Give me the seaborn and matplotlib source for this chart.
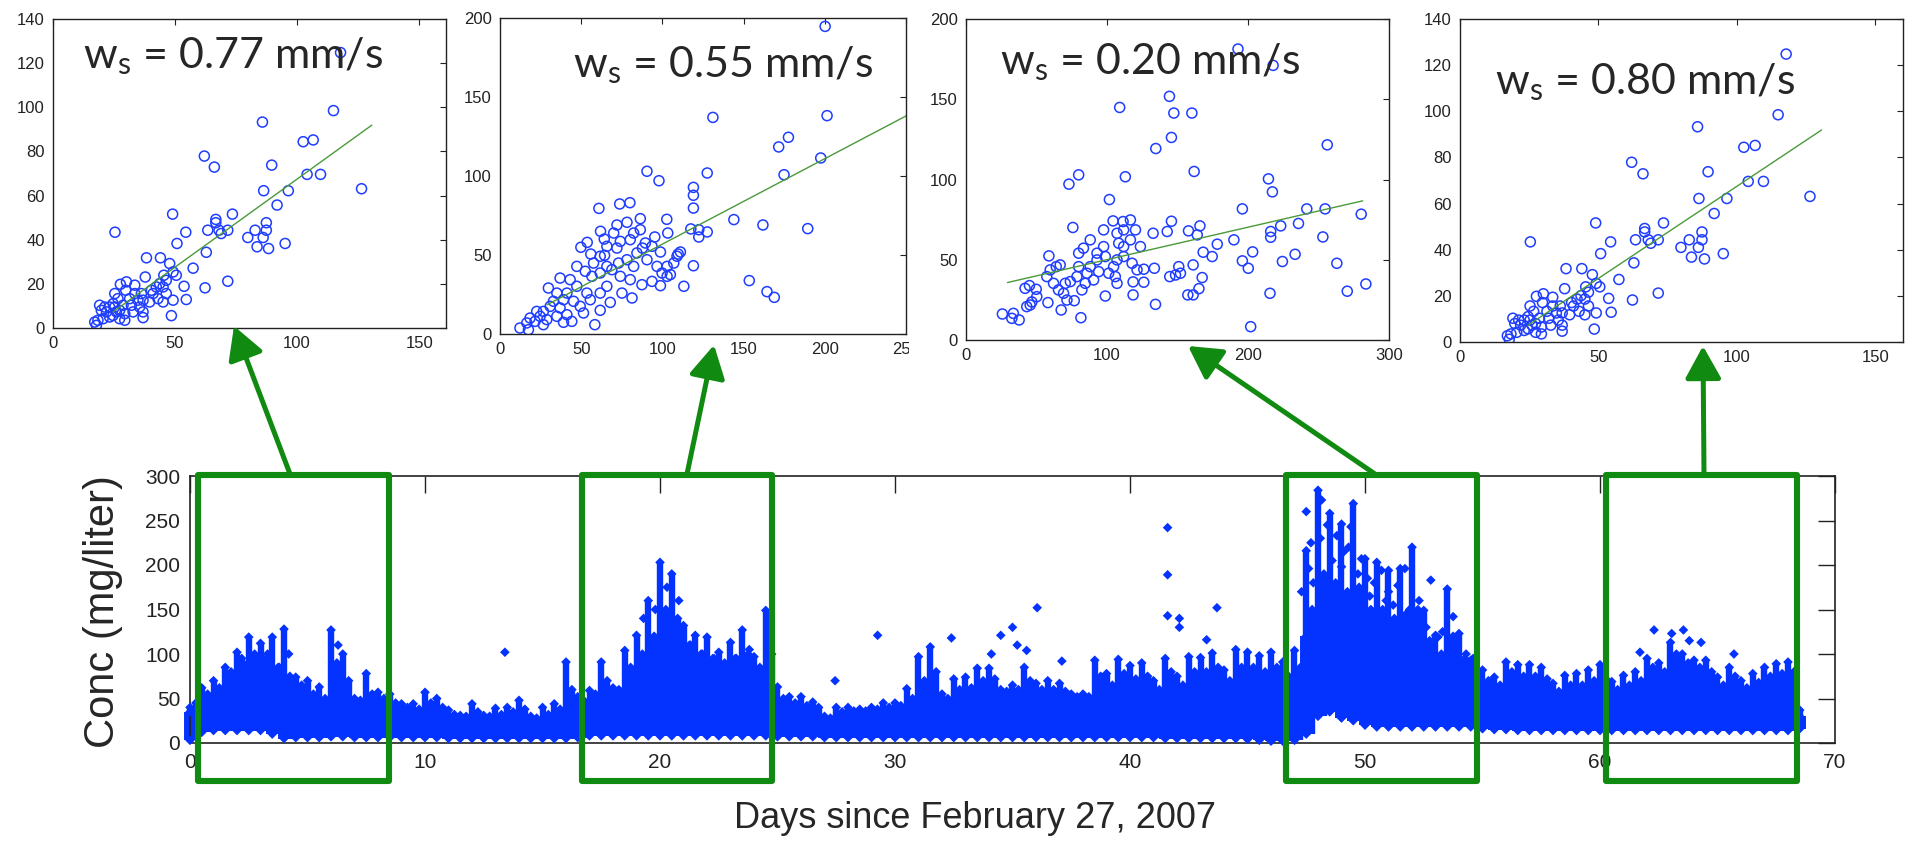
import numpy as np
import pandas as pd
import matplotlib
matplotlib.use("Agg")
import matplotlib.pyplot as plt
import seaborn as sns
from matplotlib.patches import Rectangle, FancyArrowPatch

W, H = 1905, 841

# ---- small scatter panels: (x, y) pairs ----
# panel 1 and panel 4 show the very same points
p1_pts = [(117.8, 124.8), (114.9, 98.5), (85.8, 93.3), (102.5, 84.4), (106.6, 85.2),
          (62.0, 77.9), (66.1, 72.9), (89.6, 73.8), (104.1, 69.6), (109.6, 69.6),
          (126.4, 63.1), (86.3, 62.2), (96.4, 62.2), (91.8, 55.7), (49.0, 51.6),
          (73.5, 51.6), (66.7, 49.2), (66.7, 47.7), (87.4, 47.7), (63.4, 44.3),
          (68.0, 44.3), (71.6, 44.3), (68.9, 42.8), (54.4, 43.4), (25.4, 43.4),
          (79.8, 41.0), (82.8, 44.3), (86.1, 41.0), (87.4, 44.3), (83.6, 36.8),
          (88.3, 36.0), (95.1, 38.3), (50.8, 38.3), (62.8, 34.3), (38.3, 31.8),
          (44.0, 31.8), (47.8, 29.2), (57.4, 27.1), (49.2, 25.4), (50.5, 23.9),
          (45.4, 23.9), (37.8, 23.1), (71.6, 21.2), (62.3, 18.2), (53.7, 18.9),
          (54.6, 12.9), (48.5, 5.6), (36.9, 4.7),
          (27.6, 19.8), (30.1, 20.9), (33.5, 19.4), (29.8, 17.1), (25.3, 15.6),
          (33.5, 15.6), (36.2, 15.6), (42.3, 18.6), (45.1, 18.6), (46.4, 15.6),
          (41.0, 15.6), (43.0, 13.3), (45.1, 11.8), (49.2, 12.6), (39.6, 11.8),
          (36.9, 12.6), (35.5, 9.5), (32.1, 10.3), (28.7, 10.3), (24.6, 11.0),
          (21.2, 9.5), (19.1, 10.3), (21.9, 7.3), (26.0, 7.3), (29.4, 6.5),
          (32.8, 7.3), (36.9, 7.3), (23.2, 5.0), (27.3, 4.2), (29.4, 3.5),
          (20.5, 4.2), (17.1, 2.7), (17.8, 1.2), (18.4, 3.5), (24.6, 5.7),
          (26.6, 13.3), (31.4, 13.3), (34.8, 12.6), (46.4, 21.6), (43.7, 20.1),
          (40.3, 17.1), (27.3, 8.0), (25.3, 9.5), (19.8, 8.0), (23.2, 9.5)]

p2_pts = [(200.2, 194.7), (131.1, 137.1), (201.4, 138.2), (177.6, 124.5), (171.6, 118.4),
          (197.5, 111.4), (174.9, 100.8), (90.5, 103.0), (97.9, 97.0), (127.6, 101.9),
          (119.1, 92.8), (119.1, 87.8), (119.1, 79.7), (60.9, 79.5), (73.7, 82.3),
          (80.0, 83.1), (144.0, 72.4), (161.9, 69.0), (189.5, 66.7), (102.7, 72.6),
          (86.4, 73.0), (117.5, 66.5), (122.4, 66.0), (127.6, 64.6), (122.4, 61.4),
          (103.3, 63.9), (78.2, 70.7), (72.0, 69.0), (61.9, 65.0), (64.2, 60.1),
          (53.7, 58.0), (49.8, 54.9), (55.9, 50.6), (64.4, 49.8), (95.3, 61.4),
          (93.6, 55.5), (98.8, 51.9), (87.7, 54.4), (109.7, 50.6), (111.1, 51.9),
          (119.1, 43.2), (153.5, 33.8), (164.4, 26.8), (168.9, 23.2), (113.2, 30.2),
          (96.7, 42.8), (102.9, 42.8), (99.8, 38.6), (104.9, 37.6), (98.8, 30.6),
          (93.6, 33.3), (87.4, 31.2), (82.3, 42.8), (78.2, 47.0), (73.0, 44.9),
          (68.9, 40.7), (74.1, 36.5), (80.2, 34.4), (75.1, 25.9), (81.3, 22.8),
          (67.9, 20.0), (61.7, 15.0), (58.4, 5.9), (44.2, 8.0), (39.1, 7.4),
          (51.4, 13.3), (55.6, 21.7), (61.7, 25.9), (65.8, 30.2), (53.5, 25.9),
          (47.3, 30.2), (43.2, 34.4), (37.0, 35.4), (29.8, 29.1), (35.0, 25.9),
          (41.2, 25.9), (39.1, 21.7), (32.9, 20.7), (45.3, 20.7), (49.4, 17.5),
          (37.0, 16.5), (30.9, 17.5), (26.7, 14.3), (22.6, 14.3), (24.7, 11.2),
          (18.5, 10.1), (21.6, 8.0), (28.8, 9.1), (35.0, 11.2), (41.2, 12.2),
          (16.5, 7.0), (12.3, 3.8), (17.5, 2.7), (26.7, 5.9), (65.8, 42.8),
          (61.7, 38.6), (56.6, 36.5), (52.5, 39.7), (47.3, 42.8), (72.0, 54.4),
          (74.1, 58.6), (80.2, 59.7), (82.3, 63.9), (86.4, 66.0), (89.5, 57.6),
          (84.3, 51.3), (90.5, 47.0), (107.0, 44.9), (102.9, 36.5), (109.0, 49.2),
          (70.0, 63.9), (65.8, 55.5), (57.6, 44.9), (61.7, 49.2)]

p3_pts = [(192.9, 181.3), (217.8, 171.1), (144.3, 151.8), (109.0, 144.9), (147.4, 141.4),
          (160.2, 141.4), (145.7, 126.2), (134.6, 119.3), (256.2, 121.6), (161.8, 105.0),
          (79.9, 102.9), (73.0, 97.1), (113.0, 101.7), (214.5, 100.4), (217.3, 92.3),
          (101.7, 87.5), (196.0, 81.7), (241.7, 81.7), (254.7, 81.7), (280.3, 78.4),
          (75.8, 70.1), (104.3, 74.2), (111.4, 73.8), (116.6, 74.8), (145.7, 74.0),
          (132.7, 66.5), (142.7, 67.6), (157.8, 68.0), (165.9, 71.1), (164.0, 65.5),
          (223.2, 71.1), (235.8, 72.6), (216.1, 67.6), (216.1, 64.0), (190.0, 62.4),
          (253.1, 64.2), (178.2, 59.7), (168.2, 54.7), (174.6, 52.0), (203.3, 54.9),
          (196.0, 49.3), (200.2, 44.7), (224.4, 48.9), (233.4, 53.4), (263.0, 47.8),
          (283.6, 34.9), (270.4, 30.4), (215.6, 29.1), (201.9, 8.3), (161.1, 46.8),
          (167.5, 38.9), (165.2, 32.0), (161.1, 28.1), (157.3, 28.1), (150.9, 45.7),
          (152.1, 41.6), (148.6, 40.5), (144.5, 39.5), (133.6, 44.7), (126.1, 44.1),
          (126.1, 36.0), (118.5, 36.2), (118.5, 28.1), (134.4, 22.2), (98.8, 27.4),
          (81.5, 13.9), (76.8, 24.5), (67.5, 18.7), (58.1, 23.3), (45.5, 21.8),
          (43.1, 20.8), (46.7, 23.7), (25.8, 16.2), (33.6, 16.6), (32.5, 13.5),
          (37.7, 12.5), (41.9, 32.2), (45.0, 33.9), (49.8, 31.6), (58.8, 52.4),
          (59.7, 43.7), (64.0, 45.7), (66.8, 46.8), (57.3, 39.5), (62.1, 35.3),
          (65.6, 31.2), (70.4, 35.3), (74.0, 36.4), (78.7, 39.5), (79.9, 45.7),
          (79.9, 54.1), (83.3, 57.2), (88.1, 62.4), (88.1, 45.7), (92.9, 49.9),
          (94.1, 42.6), (97.6, 58.2), (97.6, 68.6), (107.1, 66.5), (108.3, 60.3),
          (111.8, 68.6), (111.8, 58.2), (116.6, 62.4), (120.2, 68.6), (123.7, 58.2),
          (104.7, 45.7), (105.9, 39.5), (107.1, 35.3), (101.2, 41.6), (90.5, 37.4),
          (85.8, 41.6), (84.6, 35.3), (92.9, 54.1), (98.8, 52.0), (111.8, 52.0),
          (117.8, 47.8), (121.3, 43.7), (107.1, 49.9), (82.2, 31.2), (71.6, 24.9),
          (69.2, 29.1), (50.2, 27.0)]

# fitted lines, end points
p1_fit = [(24.6, 7.3), (130.6, 91.9)]
p2_fit = [(29.0, 18.5), (250.0, 138.0)]
p3_fit = [(29.4, 35.8), (281.3, 86.7)]
ws_labels = ["0.77", "0.55", "0.20", "0.80"]

# ---- long time series, one entry per half day from day 0 ----
# lo/hi = solid core of the cloud, peak = top of the stacked column
conc_lo = [3, 12, 14, 14, 14, 14, 14, 10, 5, 6,
           6, 6, 7, 7, 6, 6, 6, 6, 6, 6,
           6, 6, 5, 5, 5, 5, 5, 5, 5, 5,
           5, 5, 5, 6, 8, 8, 8, 8, 8, 8,
           8, 8, 8, 8, 8, 8, 8, 8, 8, 8,
           7, 7, 7, 7, 6, 6, 6, 6, 6, 6,
           6, 6, 6, 6, 6, 6, 6, 6, 6, 6,
           6, 6, 6, 6, 6, 6, 6, 6, 6, 6,
           6, 6, 6, 5, 5, 5, 5, 5, 5, 5,
           4, 3, 2, 2, 3, 10, 30, 35, 28, 25,
           20, 18, 18, 18, 18, 18, 18, 18, 18, 18,
           16, 15, 15, 14, 14, 14, 14, 14, 14, 14,
           14, 14, 14, 14, 14, 14, 14, 14, 14, 14,
           14, 14, 14, 14, 14, 14, 14, 16]
conc_hi = [35, 45, 48, 50, 55, 58, 58, 55, 52, 48,
           45, 42, 45, 48, 42, 42, 40, 40, 33, 32,
           32, 30, 28, 26, 27, 26, 27, 28, 30, 24,
           26, 30, 34, 38, 45, 52, 55, 60, 70, 75,
           80, 78, 72, 70, 68, 65, 65, 62, 60, 58,
           40, 38, 36, 34, 22, 30, 32, 35, 34, 35,
           36, 38, 40, 42, 40, 42, 44, 45, 46, 46,
           46, 46, 46, 45, 48, 48, 46, 46, 48, 50,
           50, 48, 45, 45, 45, 45, 45, 44, 44, 44,
           42, 42, 40, 35, 40, 120, 150, 150, 140, 140,
           130, 120, 115, 110, 100, 95, 90, 85, 80, 75,
           62, 50, 45, 45, 45, 45, 42, 42, 42, 44,
           44, 44, 45, 48, 52, 55, 58, 55, 52, 50,
           50, 48, 48, 48, 48, 48, 48, 30]
conc_peak = [40, 62, 70, 85, 102, 119, 112, 119, 128, 74,
             70, 63, 127, 100, 50, 78, 57, 55, 44, 44,
             57, 50, 37, 31, 44, 31, 39, 40, 48, 30,
             40, 44, 91, 52, 59, 91, 62, 104, 121, 160,
             203, 190, 132, 121, 119, 102, 113, 127, 97, 149,
             63, 52, 52, 46, 30, 40, 40, 38, 40, 45,
             45, 61, 97, 108, 55, 72, 74, 84, 84, 60,
             65, 85, 67, 70, 67, 55, 55, 93, 78, 94,
             87, 90, 70, 95, 75, 97, 96, 101, 82, 105,
             102, 98, 102, 91, 104, 216, 284, 258, 246, 269,
             207, 203, 194, 196, 220, 149, 121, 173, 123, 93,
             82, 74, 91, 88, 88, 85, 67, 76, 78, 82,
             88, 69, 76, 80, 95, 90, 113, 100, 93, 93,
             74, 85, 70, 78, 85, 89, 91, 37]
# secondary stacks, half a step later (day 0.25, 0.75, ...)
conc_mid = [45, 55, 62, 80, 90, 100, 95, 85, 75, 65,
            55, 50, 90, 70, 48, 55, 50, 45, 40, 38,
            45, 40, 32, 30, 35, 30, 32, 35, 38, 28,
            32, 38, 60, 48, 55, 70, 60, 85, 100, 120,
            150, 140, 110, 100, 95, 90, 95, 100, 85, 100,
            50, 45, 42, 40, 28, 35, 36, 36, 38, 40,
            42, 50, 70, 80, 50, 60, 62, 70, 72, 58,
            60, 70, 60, 60, 58, 52, 52, 75, 65, 78,
            72, 75, 60, 80, 65, 80, 80, 85, 70, 85,
            85, 80, 85, 75, 85, 150, 190, 180, 170, 175,
            150, 150, 140, 145, 150, 115, 100, 120, 95, 80,
            70, 65, 80, 75, 75, 72, 58, 65, 65, 70,
            72, 60, 65, 70, 85, 80, 100, 90, 85, 80,
            65, 75, 62, 68, 75, 78, 80]
# isolated diamonds sitting above or between the columns
iso_pts = [(13.4, 102), (27.45, 70), (29.26, 121), (32.4, 118), (34.1, 100), (34.5, 121),
           (35.0, 130), (35.2, 110), (35.6, 104), (36.05, 152), (37.1, 92), (41.6, 143),
           (41.6, 189), (41.6, 242), (42.1, 140), (42.1, 130), (43.26, 116), (43.7, 152),
           (47.5, 260), (47.6, 196), (48.15, 273), (48.6, 205), (48.8, 233), (49.0, 198),
           (49.3, 220), (49.4, 243), (49.85, 207), (50.7, 194), (51.4, 177), (51.7, 196),
           (52.8, 183), (53.75, 142), (53.1, 119), (47.8, 180), (48.3, 160), (48.9, 175),
           (49.6, 170), (50.2, 165), (50.9, 160), (51.2, 155), (51.9, 150), (52.3, 160),
           (52.6, 130), (53.3, 125), (48.1, 230), (49.1, 215), (50.4, 180), (47.7, 225),
           (47.3, 170), (48.4, 245), (49.7, 190), (50.1, 185), (51.0, 170), (52.1, 140),
           (53.6, 110), (54.3, 100), (54.6, 95), (19.3, 140), (19.8, 150), (20.3, 175),
           (20.8, 160), (21.3, 110), (21.8, 100), (22.3, 95), (23.2, 95), (23.8, 105),
           (2.2, 95), (2.8, 90), (3.3, 100), (3.8, 85), (4.2, 100), (6.3, 110),
           (62.3, 127), (63.05, 123), (63.55, 127), (63.8, 115), (64.3, 113), (61.7, 102),
           (65.7, 100)]
boxes = [(0.34, 8.47), (16.68, 24.77), (46.64, 54.77), (60.26, 68.38)]

BLUE = "#0433ff"
CIRC = "#1f3dff"
GREEN = "#118a11"
FIT = "#4a9a3a"

sns.set_style("white")
plt.rcParams["font.family"] = ["Liberation Sans", "DejaVu Sans"]
plt.rcParams["mathtext.default"] = "regular"

fig = plt.figure(figsize=(W / 100, H / 100), dpi=100)


def fig_rect(l, t, r, b):
    return [l / W, 1 - b / H, (r - l) / W, (b - t) / H]


def fxy(x, y):
    return (x / W, 1 - y / H)


def panel(box, pts, fit, xlim, ylim, xt, yt, label, txt):
    ax = fig.add_axes(fig_rect(*box))
    df = pd.DataFrame(pts, columns=["x", "y"])
    sns.scatterplot(data=df, x="x", y="y", ax=ax, marker="o", s=52,
                    facecolors="none", edgecolor=CIRC, linewidth=1.1)
    fd = pd.DataFrame(fit, columns=["x", "y"])
    sns.lineplot(data=fd, x="x", y="y", ax=ax, color=FIT, lw=1.0)
    ax.set_xlim(*xlim)
    ax.set_ylim(*ylim)
    ax.set_xticks(xt)
    ax.set_yticks(yt)
    ax.set_xlabel("")
    ax.set_ylabel("")
    ax.tick_params(direction="in", length=4, width=0.8, top=True, right=True,
                   labelsize=12, pad=6, colors="#222222")
    for s in ax.spines.values():
        s.set_linewidth(1.0)
        s.set_color("#222222")
    fig.text(*fxy(*txt), "w$_{s}$ = " + label + " mm/s", fontsize=31,
             family=["Lato", "DejaVu Sans"], ha="left", va="baseline")
    return ax


panel((53, 19, 446, 328), p1_pts, p1_fit, (0, 161), (0, 140),
      [0, 50, 100, 150], range(0, 141, 20), ws_labels[0], (83, 68))
panel((500, 18, 906, 334), p2_pts, p2_fit, (0, 250), (0, 200),
      range(0, 251, 50), range(0, 201, 50), ws_labels[1], (573, 77))
panel((966, 19, 1389, 340), p3_pts, p3_fit, (0, 300), (0, 200),
      [0, 100, 200, 300], range(0, 201, 50), ws_labels[2], (1000, 74))
panel((1460, 19, 1903, 342), p1_pts, p1_fit, (0, 160), (0, 140),
      [0, 50, 100, 150], range(0, 141, 20), ws_labels[3], (1495, 94))

# panel 2 image is cropped on the right: hide the last digit of 250
fig.add_artist(Rectangle(fxy(909, 362), 16 / W, 26 / H, transform=fig.transFigure,
                         facecolor="white", edgecolor="none", zorder=10))

# ---- main time series ----
ax = fig.add_axes(fig_rect(190, 476, 1835, 743))
days = 0.5 * np.arange(len(conc_lo))
ts = pd.DataFrame({"day": days, "lo": conc_lo, "hi": conc_hi, "peak": conc_peak})
mid = pd.DataFrame({"day": days[:len(conc_mid)] + 0.25, "lo": conc_lo[:len(conc_mid)],
                    "top": conc_mid})
ax.vlines(ts["day"], ts["lo"], ts["hi"], color=BLUE, lw=8.6, clip_on=False, zorder=2)
ax.vlines(ts["day"], ts["hi"], ts["peak"], color=BLUE, lw=4.6, clip_on=False, zorder=2)
ax.vlines(mid["day"], mid["lo"], mid["top"], color=BLUE, lw=4.6, clip_on=False, zorder=2)
for col in ["lo", "hi", "peak"]:
    sns.scatterplot(data=ts, x="day", y=col, ax=ax, marker="D", s=24, color=BLUE,
                    edgecolor="none", clip_on=False, zorder=3)
sns.scatterplot(data=mid, x="day", y="top", ax=ax, marker="D", s=24, color=BLUE,
                edgecolor="none", clip_on=False, zorder=3)
iso = pd.DataFrame(iso_pts, columns=["day", "conc"])
sns.scatterplot(data=iso, x="day", y="conc", ax=ax, marker="D", s=24, color=BLUE,
                edgecolor="none", clip_on=False, zorder=3)
ax.set_xlim(0, 70)
ax.set_ylim(0, 300)
ax.set_xticks(range(0, 71, 10))
ax.set_yticks(range(0, 301, 50))
ax.set_xlabel("")
ax.set_ylabel("")
ax.tick_params(direction="in", length=12, width=1.0, top=True, right=True,
               labelsize=15, pad=7, colors="#222222")
for s in ax.spines.values():
    s.set_linewidth(1.2)
    s.set_color("#222222")

for a, b in boxes:
    ax.add_patch(Rectangle((a, -43), b - a, 344, fill=False, edgecolor=GREEN,
                           lw=4.4, clip_on=False, zorder=5, joinstyle="round"))

fig.text(*fxy(103, 612), "Conc (mg/liter)", rotation=90, fontsize=30,
         ha="center", va="center")
fig.text(*fxy(975, 818), "Days since February 27, 2007", fontsize=26,
         ha="center", va="center")

# arrows from boxes up to the panels
arrows = [((290, 474), (234, 326)), ((687, 474), (714, 345)),
          ((1375, 474), (1188, 346)), ((1704, 474), (1703, 346))]
for tail, tip in arrows:
    fig.add_artist(FancyArrowPatch(fxy(*tail), fxy(*tip), transform=fig.transFigure,
                                   arrowstyle="-|>,head_length=0.9,head_width=0.5",
                                   mutation_scale=22, lw=3.6, color=GREEN,
                                   shrinkA=0, shrinkB=0, zorder=6))

fig.savefig("out.png", dpi=100, facecolor="white")
